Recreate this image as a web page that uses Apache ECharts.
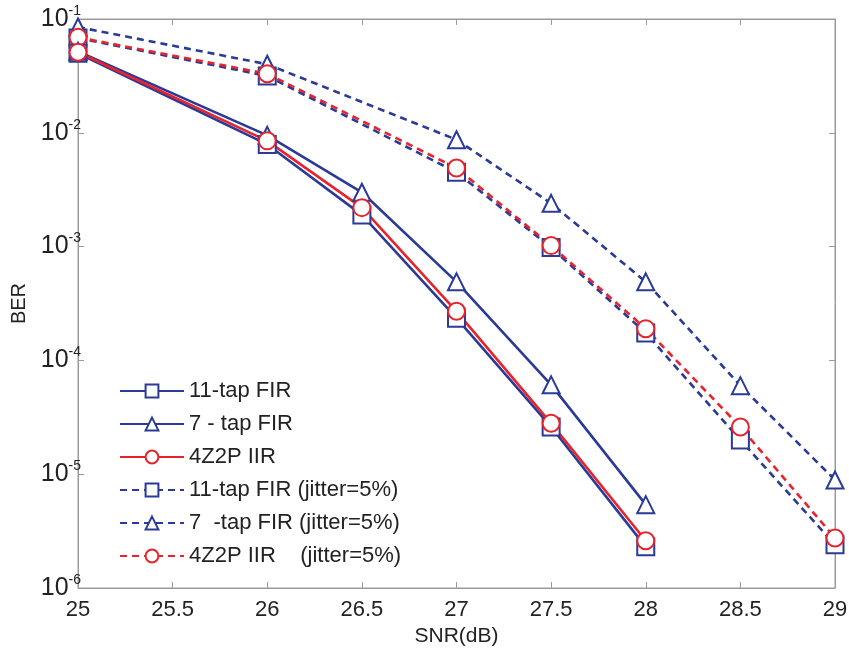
<!DOCTYPE html>
<html><head><meta charset="utf-8">
<script src="https://cdn.jsdelivr.net/npm/echarts@6/dist/echarts.min.js"></script>
<style>html,body{margin:0;padding:0;background:#fff}#c{width:849px;height:650px}</style>
</head><body><div id="c"></div>
<script>
const snrA = [25, 26, 26.5, 27, 27.5, 28];
const snrB = [25, 26, 27, 27.5, 28, 28.5, 29];
const names = ['11-tap FIR','7 - tap FIR','4Z2P IIR','11-tap FIR (jitter=5%)','7  -tap FIR (jitter=5%)','4Z2P IIR    (jitter=5%)'];
const fir11 = [0.050, 0.0079, 0.0019, 2.35e-4, 2.6e-5, 2.3e-6];
const fir7 = [0.052, 0.0095, 0.0030, 4.9e-4, 6.1e-5, 5.4e-6];
const iir = [0.051, 0.0085, 0.0022, 2.7e-4, 2.8e-5, 2.6e-6];
const fir11J = [0.068, 0.0316, 0.0045, 9.8e-4, 1.74e-4, 2.0e-5, 2.4e-6];
const fir7J = [0.085, 0.040, 0.0087, 0.0024, 4.9e-4, 6.0e-5, 8.9e-6];
const iirJ = [0.069, 0.033, 0.0049, 1.02e-3, 1.9e-4, 2.6e-5, 2.75e-6];
const xTicks = [25, 25.5, 26, 26.5, 27, 27.5, 28, 28.5, 29];

const BLUE = '#2a3a96', RED = '#e8232b';
const FONT = 'Liberation Sans, Arial, sans-serif';
const pair = (xs, ys) => xs.map((x, i) => [x, ys[i]]);
function ser(name, xs, ys, color, sym, dashed) {
  return {
    name, type: 'line', data: pair(xs, ys), symbol: sym, symbolSize: 17,
    xAxisIndex: 0, yAxisIndex: 0,
    lineStyle: { color, width: 2.6, type: dashed ? [7, 5] : 'solid' },
    itemStyle: { color, borderColor: color, borderWidth: 2.4 },
    emphasis: { disabled: true }, z: dashed ? 3 : 4
  };
}
const chart = echarts.init(document.getElementById('c'));
const yLab = v => { const e = Math.round(Math.log10(v)); return '{b|10}{s|' + e + '}'; };
const rich = { b: { fontSize: 25, fontFamily: FONT, color: '#222' }, s: { fontSize: 14, fontFamily: FONT, color: '#222', padding: [0, 0, 16, 0] } };
chart.setOption({
  animation: false,
  backgroundColor: '#fff',
  grid: { left: 78, right: 14, top: 19, bottom: 62, show: true, borderColor: '#9a9a9a', borderWidth: 1, containLabel: false, outerBoundsMode: 'none' },
  legend: {
    left: 114, top: 375, orient: 'vertical', itemWidth: 64, itemHeight: 16, itemGap: 11,
    textStyle: { fontSize: 22, fontFamily: FONT, color: '#222' },
    data: names
  },
  xAxis: [{
    type: 'value', min: 25, max: 29, interval: 0.5,
    name: 'SNR(dB)', nameLocation: 'middle', nameGap: 38,
    nameTextStyle: { fontSize: 21, fontFamily: FONT, color: '#222' },
    axisLine: { show: true, lineStyle: { color: '#9a9a9a' } },
    axisTick: { inside: true, length: 6, lineStyle: { color: '#9a9a9a' } },
    axisLabel: { fontSize: 22, fontFamily: FONT, color: '#222', margin: 11, formatter: v => String(v) },
    splitLine: { show: false }
  }, {
    type: 'value', min: 25, max: 29, interval: 0.5, position: 'top',
    axisLine: { show: true, lineStyle: { color: '#9a9a9a' } },
    axisTick: { inside: true, length: 6, lineStyle: { color: '#9a9a9a' } },
    axisLabel: { show: false }, splitLine: { show: false }
  }],
  yAxis: [{
    type: 'log', min: 1e-6, max: 1e-1, logBase: 10,
    name: 'BER', nameLocation: 'middle', nameGap: 38, nameRotate: 90,
    nameTextStyle: { fontSize: 20, fontFamily: FONT, color: '#222' },
    axisLine: { show: true, lineStyle: { color: '#9a9a9a' } },
    axisTick: { inside: true, length: 6, lineStyle: { color: '#9a9a9a' } },
    axisLabel: { formatter: yLab, rich, margin: -3 },
    splitLine: { show: false }
  }, {
    type: 'log', min: 1e-6, max: 1e-1, logBase: 10, position: 'right',
    axisLine: { show: true, lineStyle: { color: '#9a9a9a' } },
    axisTick: { inside: true, length: 6, lineStyle: { color: '#9a9a9a' } },
    axisLabel: { show: false }, splitLine: { show: false }
  }],
  series: [
    ser(names[0], snrA, fir11, BLUE, 'emptyRect', false),
    ser(names[1], snrA, fir7, BLUE, 'emptyTriangle', false),
    ser(names[2], snrA, iir, RED, 'emptyCircle', false),
    ser(names[3], snrB, fir11J, BLUE, 'emptyRect', true),
    ser(names[4], snrB, fir7J, BLUE, 'emptyTriangle', true),
    ser(names[5], snrB, iirJ, RED, 'emptyCircle', true)
  ]
});
</script></body></html>
